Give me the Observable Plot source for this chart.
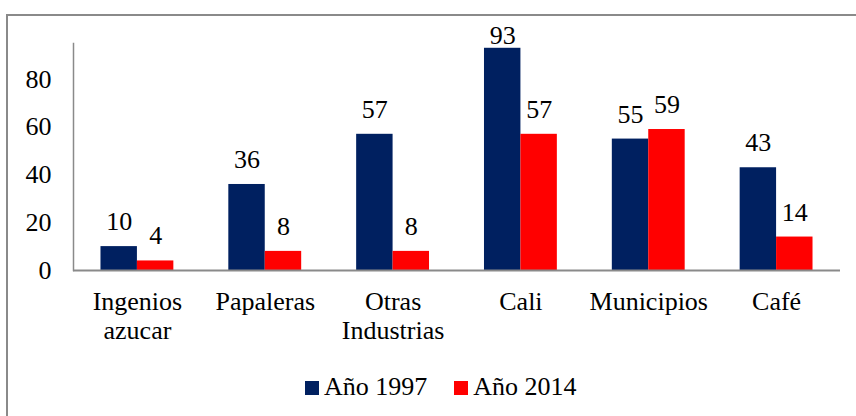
<!DOCTYPE html>
<html>
<head>
<meta charset="utf-8">
<script src="https://cdn.jsdelivr.net/npm/d3@7"></script>
<script src="https://cdn.jsdelivr.net/npm/@observablehq/plot@0.6"></script>
<style>
  html, body { margin: 0; padding: 0; background: #fff; }
  body { width: 856px; height: 416px; overflow: hidden; position: relative; font-family: "Liberation Serif", "Times New Roman", serif; }
  #frame { position: absolute; left: 6px; top: 14px; width: 1000px; height: 1000px; border-left: 2px solid #8a8a8a; border-top: 2px solid #8a8a8a; box-sizing: border-box; }
  #chart { position: absolute; left: 0; top: 0; }
  #chart svg, #chart svg text { font-family: "Liberation Serif", "Times New Roman", serif !important; }
  #legend { position: absolute; left: 305px; top: 372px; font-size: 26px; line-height: 30px; color: #000; white-space: nowrap; }
  #legend .sw { display: inline-block; width: 14px; height: 14px; vertical-align: baseline; }
</style>
</head>
<body>
<div id="frame"></div>
<div id="chart"></div>
<div id="legend"></div>
<script>
const categories = ["Ingenios\nazucar", "Papaleras", "Otras\nIndustrias", "Cali", "Municipios", "Café"];
const series = ["Año 1997", "Año 2014"];
const colors = ["#002060", "#FF0000"];
const values1997 = [10, 36, 57, 93, 55, 43];
const values2014 = [4, 8, 8, 57, 59, 14];
const yTicks = [0, 20, 40, 60, 80];

const W = 856, H = 350;
const mL = 73, mR = 16, mT = 43, mB = H - 270;
const padInner = 0.43;
const step = (W - mL - mR) / categories.length;
const bw = step * (1 - padInner);
const FF = "'Liberation Serif', 'Times New Roman', serif";

const data = [];
categories.forEach((c, i) => {
  data.push({cat: c, series: series[0], value: values1997[i]});
  data.push({cat: c, series: series[1], value: values2014[i]});
});
const d97 = data.filter(d => d.series === series[0]);
const d14 = data.filter(d => d.series === series[1]);
const font = {fontSize: 26, fill: "#000", fontFamily: FF};

const plot = Plot.plot({
  width: W, height: H,
  marginLeft: mL, marginRight: mR, marginTop: mT, marginBottom: mB,
  style: {fontFamily: FF, fontSize: "26px", color: "#000", background: "transparent"},
  x: {domain: categories, paddingInner: padInner, paddingOuter: padInner / 2, round: false, axis: null, label: null},
  y: {domain: [0, 95], axis: null, label: null},
  marks: [
    Plot.barY(d97, {x: "cat", y: "value", fill: colors[0], insetRight: bw / 2}),
    Plot.barY(d14, {x: "cat", y: "value", fill: colors[1], insetLeft: bw / 2}),
    Plot.frame({anchor: "left", stroke: "#8a8a8a", strokeWidth: 1.5}),
    Plot.ruleY([0], {stroke: "#8a8a8a", strokeWidth: 2}),
    Plot.text(d97.filter(d => d.value < 90), {x: "cat", y: "value", text: d => String(d.value), dx: -bw / 4, dy: -16.5, lineAnchor: "bottom", ...font}),
    Plot.text(d97.filter(d => d.value >= 90), {x: "cat", y: "value", text: d => String(d.value), dx: -bw / 4, dy: -4, lineAnchor: "bottom", ...font}),
    Plot.text(d14, {x: "cat", y: "value", text: d => String(d.value), dx: bw / 4, dy: -16.5, lineAnchor: "bottom", ...font}),
    Plot.axisX({domain: categories, label: null, tickSize: 0, tickPadding: 19, fontSize: 26, lineHeight: 1.12, fill: "#000", fontFamily: FF}),
    Plot.axisY({ticks: yTicks, label: null, tickSize: 0, tickPadding: 22, fontSize: 26, fill: "#000", fontFamily: FF})
  ]
});
document.getElementById("chart").appendChild(plot);

const legend = document.getElementById("legend");
series.forEach((s, i) => {
  const sw = document.createElement("span");
  sw.className = "sw";
  sw.style.background = colors[i];
  sw.style.marginLeft = i === 0 ? "0px" : "27px";
  sw.style.marginRight = "5px";
  legend.appendChild(sw);
  const t = document.createElement("span");
  t.textContent = s;
  legend.appendChild(t);
});
</script>
</body>
</html>
